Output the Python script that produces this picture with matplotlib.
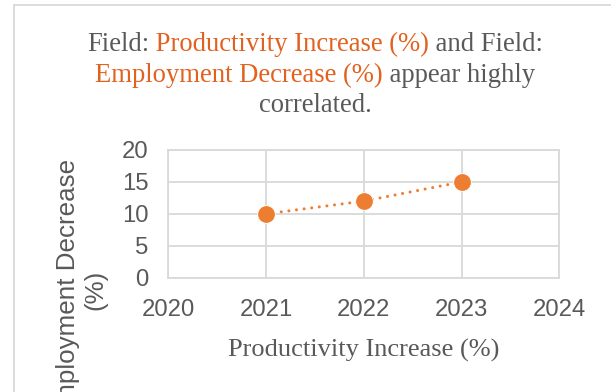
import matplotlib
matplotlib.use("Agg")
import matplotlib.pyplot as plt
from matplotlib.lines import Line2D

# data
years = [2021, 2022, 2023]
employment_decrease = [10, 12, 15]
x_ticks = [2020, 2021, 2022, 2023, 2024]
y_ticks = [0, 5, 10, 15, 20]

ORANGE = "#ED7D31"
TITLE_ORANGE = "#E2611F"
GRAY = "#595959"
GRID = "#D9D9D9"

W, H, DPI = 611, 392, 100
fig = plt.figure(figsize=(W / DPI, H / DPI), dpi=DPI)
fig.patch.set_facecolor("white")

# axes box in pixels: left 168, right 559, top 150, bottom 278
ax = fig.add_axes([168.3 / W, (H - 277.7) / H, (559.3 - 168.3) / W, (277.7 - 150) / H])

ax.plot(years, employment_decrease, linestyle=(0, (0.01, 2.5)), color=ORANGE, lw=2.2,
        dash_capstyle="round", marker="o", markersize=12.8,
        markerfacecolor=ORANGE, markeredgecolor="white", markeredgewidth=0.7,
        zorder=3)

ax.set_xlim(2020, 2024)
ax.set_ylim(0, 20)
ax.set_xticks(x_ticks)
ax.set_yticks(y_ticks)
ax.grid(True, color=GRID, lw=1.3)
ax.set_axisbelow(True)
for s in ax.spines.values():
    s.set_color(GRID)
    s.set_linewidth(1.3)
ax.tick_params(length=0, colors=GRAY, labelsize=17.2)
ax.tick_params(axis="x", pad=15)
ax.tick_params(axis="y", pad=14)
for lab in ax.get_xticklabels() + ax.get_yticklabels():
    lab.set_family("Liberation Sans")

ax.set_xlabel("Productivity Increase (%)", family="Liberation Serif",
              fontsize=19, color=GRAY, labelpad=13)

# y label is partly cut off by the bottom edge, as in the reference
fig.text(81.5 / W, (H - 290) / H, "Employment Decrease\n(%)", rotation=90,
         ha="center", va="center", multialignment="center",
         family="Liberation Sans", fontsize=18.7, color=GRAY)

# chart border (only the top and left edges are inside the image)
fig.add_artist(Line2D([14 / W, 14 / W], [0, (H - 5) / H], color=GRID, lw=1.3,
                      transform=fig.transFigure))
fig.add_artist(Line2D([14 / W, 1], [(H - 5) / H, (H - 5) / H], color=GRID, lw=1.3,
                      transform=fig.transFigure))

# title with coloured field names
title_lines = [
    [("Field:", GRAY), (" Productivity Increase (%)", TITLE_ORANGE), (" and Field:", GRAY)],
    [("Employment Decrease (%)", TITLE_ORANGE), (" appear highly", GRAY)],
    [("correlated.", GRAY)],
]
baselines = [51, 81.5, 112]
cx = 315
renderer = fig.canvas.get_renderer()
for segs, base in zip(title_lines, baselines):
    texts = []
    for s, c in segs:
        t = fig.text(0, (H - base) / H, s, color=c, family="Liberation Serif",
                     fontsize=19.2, va="baseline", ha="left")
        texts.append(t)
    widths = [t.get_window_extent(renderer).width for t in texts]
    x = cx - sum(widths) / 2
    for t, w in zip(texts, widths):
        t.set_x(x / W)
        x += w

fig.savefig("out.png", dpi=DPI)
